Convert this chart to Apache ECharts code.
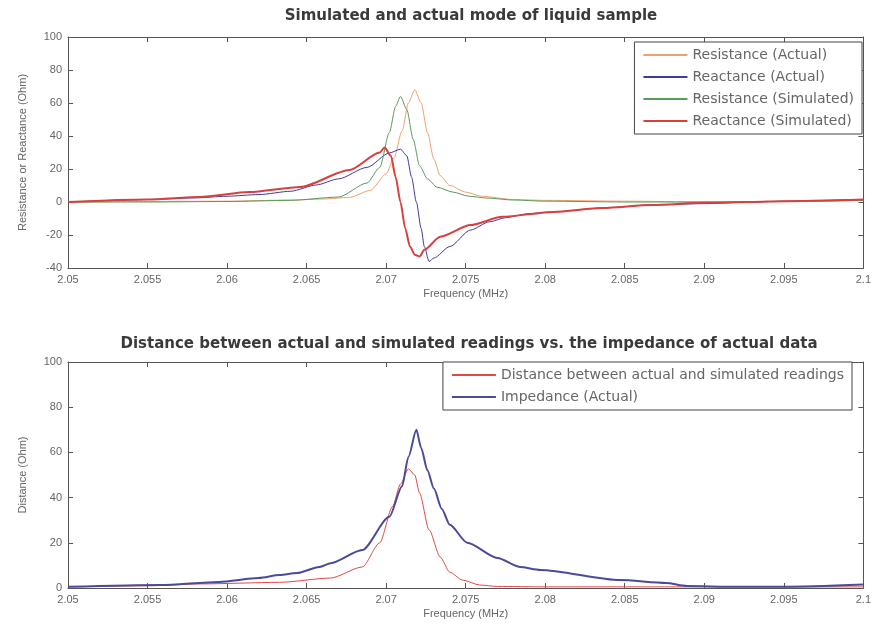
<!DOCTYPE html>
<html><head><meta charset="utf-8">
<script src="https://cdn.jsdelivr.net/npm/echarts@6/dist/echarts.min.js"></script>
<style>html,body{margin:0;padding:0;background:#fff}#c{width:874px;height:633px}</style>
</head><body><div id="c"></div>
<script>
// ---------- data ----------
const xTicks = [2.05, 2.055, 2.06, 2.065, 2.07, 2.075, 2.08, 2.085, 2.09, 2.095, 2.1];

const resActFreq = [2.05, 2.055, 2.06, 2.064, 2.066, 2.0677, 2.069, 2.07, 2.0705, 2.071, 2.0714, 2.0718, 2.0722, 2.0726, 2.073, 2.0734, 2.074, 2.075, 2.076, 2.078, 2.08, 2.085, 2.09, 2.095, 2.1];
const resActVal  = [0, 0.3, 0.5, 1.2, 1.8, 2.8, 7, 17, 27, 43, 60, 68, 60, 42, 26, 16, 10, 6, 3.5, 1.5, 1, 0.5, 0, 0.3, 1];

const reaActFreq = [2.05, 2.055, 2.058, 2.06, 2.062, 2.064, 2.0656, 2.067, 2.0688, 2.0702, 2.0709, 2.0713, 2.0716, 2.0719, 2.0722, 2.0724, 2.0727, 2.073, 2.074, 2.0753, 2.0765, 2.0775, 2.079, 2.0805, 2.0836, 2.0867, 2.09, 2.093, 2.095, 2.1];
const reaActVal  = [0, 1.5, 2.5, 3.5, 4.5, 6.5, 10.3, 14, 21, 29.7, 32, 28, 15, 0, -16, -27, -36, -34, -27, -17, -12, -9.5, -7, -6, -3.6, -1.8, -1, 0, 0.5, 1.5];

const resSimFreq = [2.05, 2.055, 2.06, 2.064, 2.067, 2.0688, 2.0696, 2.0702, 2.0706, 2.0709, 2.0713, 2.0717, 2.0721, 2.0726, 2.0732, 2.0742, 2.0752, 2.0763, 2.078, 2.08, 2.085, 2.09, 2.095, 2.1];
const resSimVal  = [0, 0, 0.3, 1, 3, 11.5, 21, 42, 58, 64, 56, 38, 22, 14, 9, 6, 3.5, 2.4, 1.2, 0.5, 0, 0, 0.3, 1];

const reaSimFreq = [2.05, 2.055, 2.0583, 2.0614, 2.0646, 2.0677, 2.0696, 2.0699, 2.0703, 2.0706, 2.0709, 2.0712, 2.0715, 2.0718, 2.0721, 2.0724, 2.0734, 2.0753, 2.0773, 2.0805, 2.0836, 2.0867, 2.09, 2.093, 2.095, 2.1];
const reaSimVal  = [0, 1.5, 3, 6, 9.1, 19.4, 30, 33, 28, 15, 0, -16, -27, -32, -33, -29, -21, -14, -9, -6, -3.6, -1.8, -0.5, 0, 0.5, 1.5];

const impFreq = [2.05, 2.0558, 2.0595, 2.062, 2.0633, 2.0644, 2.0658, 2.0665, 2.0685, 2.0702, 2.071, 2.0714, 2.0719, 2.0722, 2.0726, 2.073, 2.0735, 2.074, 2.0751, 2.077, 2.0784, 2.0797, 2.0847, 2.0876, 2.0889, 2.092, 2.095, 2.1];
const impVal  = [0.5, 1.3, 2.7, 4.4, 5.7, 6.6, 9.3, 11, 16.8, 31.5, 45, 58, 70, 62, 52, 44, 35, 28, 20, 13.3, 9.3, 8, 3.5, 2.2, 0.9, 0.5, 0.5, 1.5];

const distFreq = [2.05, 2.055, 2.0583, 2.0633, 2.0665, 2.0685, 2.0696, 2.0704, 2.0709, 2.0714, 2.0718, 2.0721, 2.0727, 2.0734, 2.074, 2.0748, 2.0759, 2.077, 2.08, 2.085, 2.09, 2.095, 2.1];
const distVal  = [0.5, 1, 1.8, 2.5, 4.4, 9.3, 20, 36, 46, 52.7, 50, 42, 25.7, 13.7, 7, 3.5, 1.3, 0.7, 0.5, 0.5, 0.5, 0.5, 0.5];

const topYTicks = [-40, -20, 0, 20, 40, 60, 80, 100];
const botYTicks = [0, 20, 40, 60, 80, 100];

// ---------- chart ----------
const zip = (a, b) => a.map((v, i) => [v, b[i]]);
const FONT = 'Liberation Sans';
const LFONT = 'DejaVu Sans';
const axisCol = '#555';
const txtCol = '#666';

function xAx(gi, name) {
  return [{
    type: 'value', gridIndex: gi, min: xTicks[0], max: xTicks[xTicks.length - 1], interval: 0.005,
    name: name, nameLocation: 'middle', nameGap: 20,
    nameTextStyle: { color: txtCol, fontFamily: FONT, fontSize: 11 },
    axisLine: { onZero: false, lineStyle: { color: axisCol } },
    axisTick: { inside: true, length: 5, lineStyle: { color: axisCol } },
    axisLabel: { color: txtCol, fontFamily: FONT, fontSize: 11, margin: 6,
      formatter: v => String(+v.toFixed(3)) },
    splitLine: { show: false }
  }, {
    type: 'value', gridIndex: gi, position: 'top', min: xTicks[0], max: xTicks[xTicks.length - 1], interval: 0.005,
    axisLine: { onZero: false, lineStyle: { color: axisCol } },
    axisTick: { inside: true, length: 5, lineStyle: { color: axisCol } },
    axisLabel: { show: false }, splitLine: { show: false }
  }];
}
function yAx(gi, ticks, name) {
  return [{
    type: 'value', gridIndex: gi, min: ticks[0], max: ticks[ticks.length - 1], interval: 20,
    name: name, nameLocation: 'middle', nameGap: 40,
    nameTextStyle: { color: txtCol, fontFamily: FONT, fontSize: 11 },
    axisLine: { show: true, onZero: false, lineStyle: { color: axisCol } },
    axisTick: { show: true, inside: true, length: 5, lineStyle: { color: axisCol } },
    axisLabel: { color: txtCol, fontFamily: FONT, fontSize: 11, margin: 6 },
    splitLine: { show: false }
  }, {
    type: 'value', gridIndex: gi, position: 'right', min: ticks[0], max: ticks[ticks.length - 1], interval: 20,
    axisLine: { show: true, onZero: false, lineStyle: { color: axisCol } },
    axisTick: { show: true, inside: true, length: 5, lineStyle: { color: axisCol } },
    axisLabel: { show: false }, splitLine: { show: false }
  }];
}

const chart = echarts.init(document.getElementById('c'), null, { renderer: 'canvas' });
const line = (name, xi, yi, data, color, width) => ({
  name, type: 'line', xAxisIndex: xi, yAxisIndex: yi, data, symbol: 'none', showSymbol: false,
  smooth: 0.25, smoothMonotone: 'x',
  lineStyle: { color, width }, itemStyle: { color }, z: 3, animation: false
});
const legendBase = {
  orient: 'vertical', itemWidth: 44, itemHeight: 12, itemGap: 6,
  backgroundColor: '#fff', borderColor: '#444', borderWidth: 1, padding: [5, 8, 5, 8],
  itemStyle: { opacity: 0 },
  textStyle: { fontFamily: LFONT, fontSize: 14, color: '#666', lineHeight: 16 }
};

chart.setOption({
  animation: false,
  backgroundColor: '#fff',
  title: [
    { text: 'Simulated and actual mode of liquid sample', left: 466, top: 4, textAlign: 'center',
      textStyle: { fontFamily: LFONT, fontSize: 15, fontWeight: 'bold', color: '#3a3a3a' } },
    { text: 'Distance between actual and simulated readings vs. the impedance of actual data', left: 464, top: 332, textAlign: 'center',
      textStyle: { fontFamily: LFONT, fontSize: 15, fontWeight: 'bold', color: '#3a3a3a' } }
  ],
  grid: [
    { left: 68, right: 10, top: 37, bottom: 365 },
    { left: 68, right: 10, top: 362, bottom: 45 }
  ],
  legend: [
    Object.assign({}, legendBase, { right: 12, top: 42,
      data: ['Resistance (Actual)', 'Reactance (Actual)', 'Resistance (Simulated)', 'Reactance (Simulated)'] }),
    Object.assign({}, legendBase, { right: 22, top: 362,
      data: ['Distance between actual and simulated readings', 'Impedance (Actual)'] })
  ],
  xAxis: [...xAx(0, 'Frequency (MHz)'), ...xAx(1, 'Frequency (MHz)')],
  yAxis: [...yAx(0, topYTicks, 'Resistance or Reactance (Ohm)'), ...yAx(1, botYTicks, 'Distance (Ohm)')],
  series: [
    line('Resistance (Actual)', 0, 0, zip(resActFreq, resActVal), '#f0a070', 1),
    line('Reactance (Actual)', 0, 0, zip(reaActFreq, reaActVal), '#3a3aa0', 1),
    line('Resistance (Simulated)', 0, 0, zip(resSimFreq, resSimVal), '#5a9a5a', 1),
    line('Reactance (Simulated)', 0, 0, zip(reaSimFreq, reaSimVal), '#d84040', 2),
    line('Distance between actual and simulated readings', 2, 2, zip(distFreq, distVal), '#e04848', 1),
    line('Impedance (Actual)', 2, 2, zip(impFreq, impVal), '#4a4a9a', 2)
  ]
});
</script>
</body></html>
